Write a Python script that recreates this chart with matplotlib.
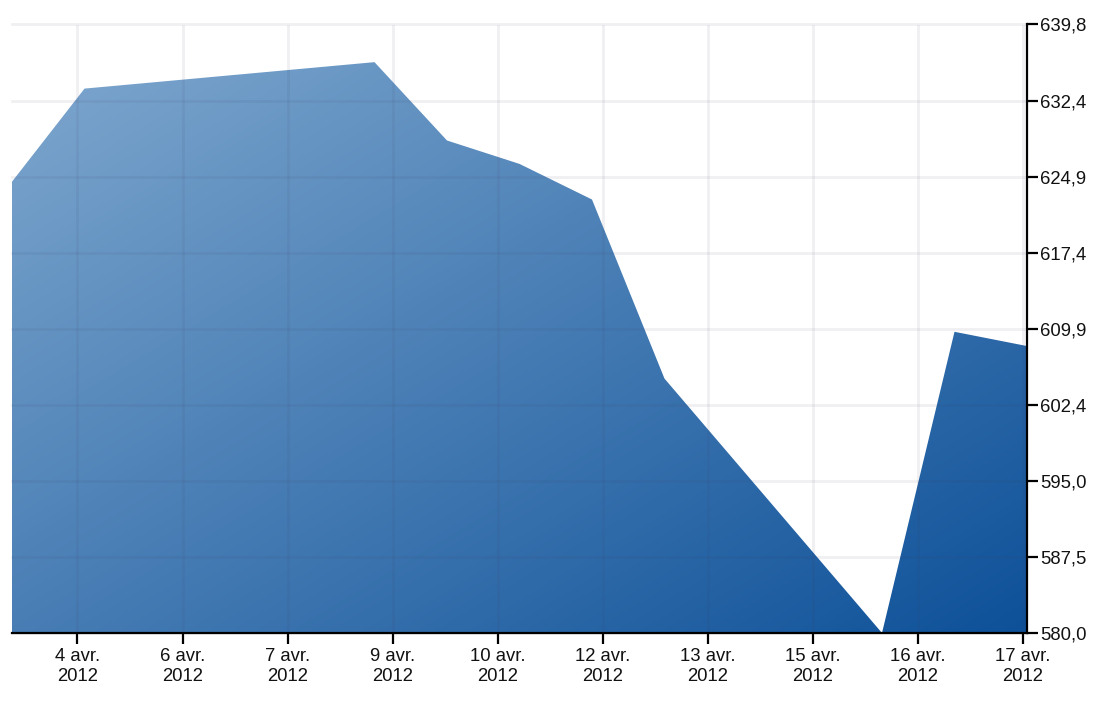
import numpy as np
import matplotlib.pyplot as plt
from matplotlib.patches import Polygon
from matplotlib.colors import LinearSegmentedColormap

# daily values, x = day of April 2012
days = [3, 4, 8, 9, 10, 11, 12, 15, 16, 17]
values = [624.35, 633.5, 636.1, 628.4, 626.1, 622.6, 605.0, 580.0, 609.6, 608.2]

x_labels = ["4 avr.\n2012", "6 avr.\n2012", "7 avr.\n2012", "9 avr.\n2012", "10 avr.\n2012",
            "12 avr.\n2012", "13 avr.\n2012", "15 avr.\n2012", "16 avr.\n2012", "17 avr.\n2012"]
y_labels = ["580,0", "587,5", "595,0", "602,4", "609,9", "617,4", "624,9", "632,4", "639,8"]

ymin, ymax = 580.0, 639.8

plt.rcParams['font.family'] = ['Liberation Sans', 'DejaVu Sans']

fig = plt.figure(figsize=(11.08, 7.26), dpi=100)
ax = fig.add_axes([12 / 1108, 1 - 633 / 726, 1015 / 1108, 608.5 / 726])
ax.set_xlim(days[0], days[-1])
ax.set_ylim(ymin, ymax)

# gradient fill, light top-left to dark bottom-right
cmap = LinearSegmentedColormap.from_list("blues", ["#82aad0", "#0e5199"])
gx, gy = np.meshgrid(np.linspace(0, 1, 300), np.linspace(1, 0, 300))
grad = (gx + (1 - gy)) / 2
im = ax.imshow(grad, cmap=cmap, vmin=0, vmax=1, aspect='auto',
               extent=[days[0], days[-1], ymin, ymax], zorder=1)
verts = [(days[0], ymin)] + list(zip(days, values)) + [(days[-1], ymin)]
poly = Polygon(verts, closed=True, facecolor='none', edgecolor='none')
ax.add_patch(poly)
im.set_clip_path(poly)

# grid on top, faint
xt = np.linspace(3.903, 16.945, len(x_labels))
yt = np.linspace(ymin, ymax, len(y_labels))
for v in xt:
    ax.axvline(v, color=(0.25, 0.25, 0.4), alpha=0.08, lw=2, zorder=2)
for v in yt:
    ax.axhline(v, color=(0.25, 0.25, 0.4), alpha=0.08, lw=2, zorder=2, clip_on=False)

ax.set_xticks(xt)
ax.set_xticklabels(x_labels)
ax.set_yticks(yt)
ax.set_yticklabels(y_labels)
ax.yaxis.tick_right()

for s in ['top', 'left']:
    ax.spines[s].set_visible(False)
for s in ['bottom', 'right']:
    ax.spines[s].set_linewidth(1.6)
    ax.spines[s].set_color('black')
    ax.spines[s].set_zorder(5)

ax.tick_params(axis='x', length=8, width=1.6, pad=3, labelsize=13.3, colors='black')
ax.tick_params(axis='y', length=8, width=1.6, pad=1.5, labelsize=13.3, colors='black')
for lbl in ax.get_xticklabels() + ax.get_yticklabels():
    lbl.set_color('#111111')

fig.savefig("out.png", dpi=100)
